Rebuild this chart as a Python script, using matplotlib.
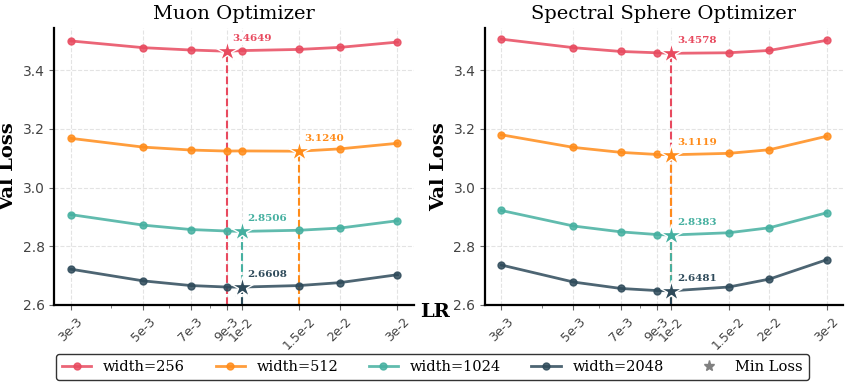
import matplotlib.pyplot as plt
import numpy as np

lrs = [3e-3, 5e-3, 7e-3, 9e-3, 1e-2, 1.5e-2, 2e-2, 3e-2]
lr_labels = ['3e-3', '5e-3', '7e-3', '9e-3', '1e-2', '1.5e-2', '2e-2', '3e-2']
widths = [256, 512, 1024, 2048]
colors = ['#E84A5F', '#FF8C1A', '#45B0A0', '#2E4A5A']

muon_256 = [3.500, 3.477, 3.469, 3.4649, 3.467, 3.471, 3.478, 3.496]
muon_512 = [3.168, 3.138, 3.128, 3.1245, 3.125, 3.1240, 3.132, 3.151]
muon_1024 = [2.908, 2.872, 2.857, 2.852, 2.8506, 2.8545, 2.862, 2.887]
muon_2048 = [2.722, 2.682, 2.666, 2.661, 2.6608, 2.666, 2.676, 2.703]

sphere_256 = [3.506, 3.477, 3.464, 3.4596, 3.4578, 3.4596, 3.4675, 3.502]
sphere_512 = [3.180, 3.137, 3.120, 3.113, 3.1119, 3.1167, 3.129, 3.175]
sphere_1024 = [2.922, 2.869, 2.849, 2.840, 2.8383, 2.846, 2.863, 2.914]
sphere_2048 = [2.736, 2.678, 2.656, 2.649, 2.6481, 2.661, 2.688, 2.754]

panels = [
    ('Muon Optimizer', [muon_256, muon_512, muon_1024, muon_2048]),
    ('Spectral Sphere Optimizer', [sphere_256, sphere_512, sphere_1024, sphere_2048]),
]

plt.rcParams['font.family'] = 'DejaVu Serif'

fig = plt.figure(figsize=(8.48, 3.85), dpi=100)
axes = [fig.add_axes([0.064, 0.208, 0.424, 0.72]),
        fig.add_axes([0.572, 0.208, 0.422, 0.72])]

for ax, (title, series) in zip(axes, panels):
    for w, vals, c in zip(widths, series, colors):
        vals = np.array(vals)
        ax.plot(lrs, vals, '-o', color=c, lw=2, ms=5, alpha=0.85,
                label=f'width={w}', zorder=3)
        i = int(np.argmin(vals))
        ax.plot([lrs[i], lrs[i]], [2.6, vals[i]], '--', color=c, lw=1.5,
                zorder=2)
        ax.plot(lrs[i], vals[i], marker='*', color=c, ms=16,
                mec='white', mew=1, zorder=5, ls='none')
        ax.annotate(f'{vals[i]:.4f}', (lrs[i], vals[i]), xytext=(4, 9),
                    textcoords='offset points', ha='left', va='center',
                    fontsize=7.5, fontweight='bold', color=c, zorder=6,
                    bbox=dict(facecolor='white', edgecolor='none', pad=1.5,
                              alpha=0.9))
    ax.set_xscale('log')
    ax.set_xticks(lrs)
    ax.set_xticklabels(lr_labels, rotation=45, fontsize=9, color='#444444',
                       family='DejaVu Sans')
    ax.set_ylim(2.6, 3.545)
    ax.set_yticks([2.6, 2.8, 3.0, 3.2, 3.4])
    ax.set_yticklabels(['2.6', '2.8', '3.0', '3.2', '3.4'], fontsize=10,
                       color='#444444', family='DejaVu Sans')
    ax.tick_params(axis='both', which='both', color='#666666')
    ax.set_title(title, fontsize=14)
    ax.set_ylabel('Val Loss', fontsize=14, fontweight='bold')
    ax.grid(True, which='major', ls='--', color='#dddddd', lw=0.8, alpha=0.8)
    ax.spines['top'].set_visible(False)
    ax.spines['right'].set_visible(False)
    ax.spines['left'].set_linewidth(1.6)
    ax.spines['bottom'].set_linewidth(1.6)

axes[0].set_xlabel('LR', fontsize=14, fontweight='bold')
axes[0].xaxis.set_label_coords(1.06, 0.007)

handles, labels = axes[0].get_legend_handles_labels()
handles = handles[:4]
labels = labels[:4]
star = plt.Line2D([], [], marker='*', color='gray', ls='none', ms=8)
fig.legend(handles + [star], labels + ['Min Loss'], loc='lower center',
           ncol=5, bbox_to_anchor=(0.51, -0.005), fontsize=10.5,
           frameon=True, edgecolor='black', fancybox=True,
           columnspacing=2.1, handlelength=2)

plt.savefig('out.png', dpi=100)
